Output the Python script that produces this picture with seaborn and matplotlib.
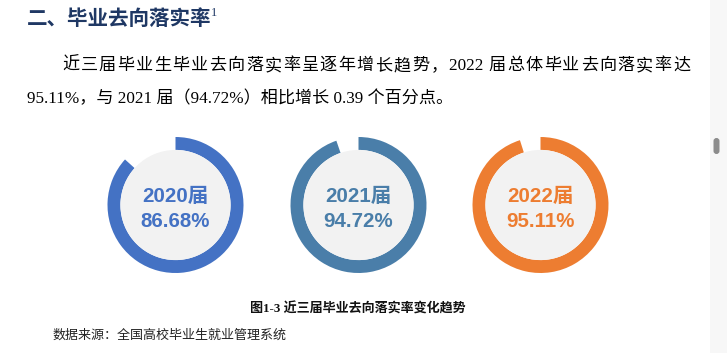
import matplotlib
matplotlib.use("Agg")
import matplotlib.pyplot as plt
from matplotlib.patches import Circle, FancyBboxPatch, Rectangle
import seaborn as sns

# ---- data ----
years = ["2020届", "2021届", "2022届"]
rates = [86.68, 94.72, 95.11]
ring_colors = ["#4472C4", "#4A7EA9", "#ED7D31"]

heading = "二、毕业去向落实率"
para_line1 = ["近", "三", "届", "毕", "业", "生", "毕", "业", "去", "向", "落", "实", "率",
              "呈", "逐", "年", "增", "长", "趋", "势", "，", "2022 ", "届", "总", "体",
              "毕", "业", "去", "向", "落", "实", "率", "达"]
para_line2 = "95.11%，与 2021 届（94.72%）相比增长 0.39 个百分点。"
caption = "图1-3 近三届毕业去向落实率变化趋势"
source = "数据来源：全国高校毕业生就业管理系统"

sns.set_theme(style="white")
plt.rcParams["font.family"] = ["Liberation Sans", "Noto Sans CJK SC", "DejaVu Sans"]

W, H = 727, 353
fig = plt.figure(figsize=(W / 100, H / 100), dpi=100)
fig.patch.set_facecolor("white")

base = fig.add_axes([0, 0, 1, 1])
base.set_xlim(0, W)
base.set_ylim(H, 0)
base.axis("off")

# heading
base.text(27, 18, heading, fontsize=14.8, fontweight="bold", color="#1F3864",
          family=["Noto Sans CJK SC", "DejaVu Sans"], ha="left", va="center")
base.text(211, 13, "1", fontsize=9, color="#1F3864",
          family=["Liberation Serif"], ha="left", va="center")

# paragraph (first line justified across the text width)
pfam = ["Liberation Serif", "Noto Sans CJK SC"]
psize = 12.3
renderer = fig.canvas.get_renderer()
objs, widths = [], []
for tok in para_line1:
    t = base.text(0, 66, tok, fontsize=psize, color="black", family=pfam,
                  ha="left", va="center")
    objs.append(t)
    widths.append(t.get_window_extent(renderer).width)
x0, x1 = 62, 690
gap = (x1 - x0 - sum(widths)) / (len(widths) - 1)
x = x0
for t, w in zip(objs, widths):
    t.set_x(x)
    x += w + gap

base.text(27, 99, para_line2, fontsize=psize, color="black", family=pfam,
          ha="left", va="center")

# caption and source
base.text(358, 309, caption, fontsize=9.4, fontweight="bold", color="#111111",
          family=["Liberation Serif", "Noto Sans CJK SC"], ha="center", va="center")
base.text(53, 335, source, fontsize=9.4, color="#222222",
          family=["Noto Sans CJK SC"], ha="left", va="center")

# scrollbar
base.add_patch(Rectangle((710, 0), 17, H, facecolor="#F7F7F7", edgecolor="none"))
base.add_patch(FancyBboxPatch((713.5, 138), 6, 16, boxstyle="round,pad=0,rounding_size=3",
                              facecolor="#8C8C8C", edgecolor="none"))

# donuts
centers_x = [175.5, 358.5, 540.5]
cy, r = 205, 68
ring_w = 0.19
for cx, yr, rate, col in zip(centers_x, years, rates, ring_colors):
    ax = fig.add_axes([(cx - r) / W, (H - cy - r) / H, 2 * r / W, 2 * r / H])
    ax.pie([rate, 100 - rate], startangle=90, counterclock=False,
           colors=[col, (1, 1, 1, 0)], radius=1,
           wedgeprops=dict(width=ring_w, linewidth=0))
    ax.add_patch(Circle((0, 0), 1 - ring_w, facecolor="#F2F2F2", edgecolor="none"))
    ax.set_xlim(-1, 1)
    ax.set_ylim(-1, 1)
    ax.set_aspect("equal")
    ax.axis("off")
    ax.text(0, 0.12, yr, fontsize=14.8, fontweight="bold", color=col,
            ha="center", va="center")
    ax.text(0, -0.24, f"{rate:.2f}%", fontsize=14.8, fontweight="bold", color=col,
            ha="center", va="center")

fig.savefig("out.png", dpi=100, facecolor="white")
